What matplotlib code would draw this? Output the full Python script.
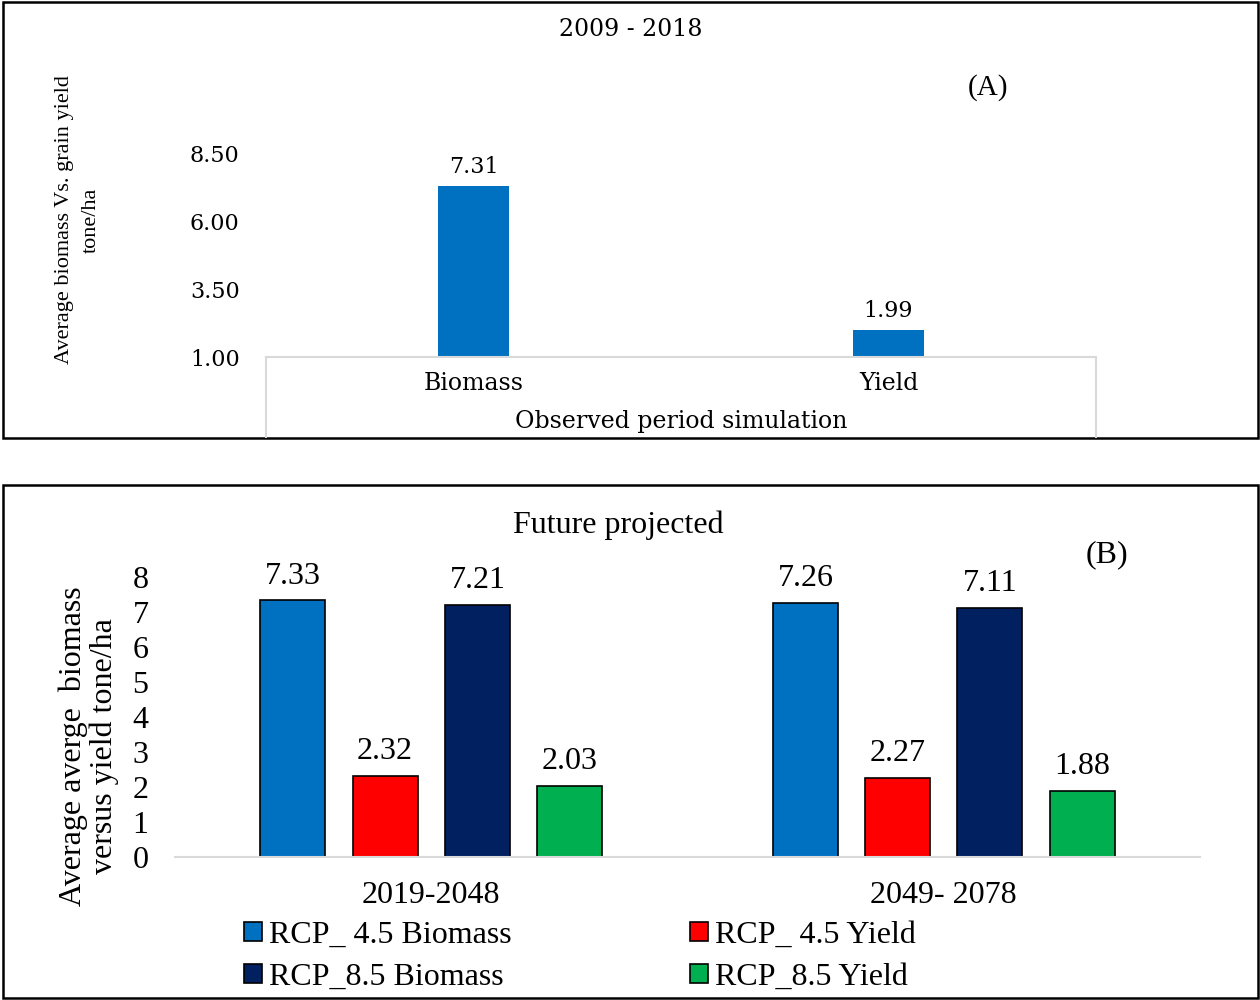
import matplotlib
matplotlib.use("Agg")
import matplotlib.pyplot as plt
from matplotlib.patches import Rectangle
from matplotlib.lines import Line2D
import numpy as np

# ---------------- data ----------------
obs_categories = ["Biomass", "Yield"]
obs_values = [7.31, 1.99]
obs_yticks = [1.00, 3.50, 6.00, 8.50]

fut_periods = ["2019-2048", "2049- 2078"]
rcp45_biomass = [7.33, 7.26]
rcp45_yield = [2.32, 2.27]
rcp85_biomass = [7.21, 7.11]
rcp85_yield = [2.03, 1.88]
series_names = ["RCP_ 4.5 Biomass", "RCP_ 4.5 Yield", "RCP_8.5 Biomass", "RCP_8.5 Yield"]
fut_yticks = [0, 1, 2, 3, 4, 5, 6, 7, 8]

W, H = 1260, 1000
fig = plt.figure(figsize=(W / 100, H / 100), dpi=100)

TIMES = "Liberation Serif"
WIDE = "DejaVu Serif"

def fx(px):
    return px / W

def fy(py):
    return 1 - py / H

# ---------------- Panel A ----------------
axA = fig.add_axes([fx(266), fy(357), fx(1096) - fx(266), fy(154) - fy(357)])
xa = np.arange(len(obs_categories))
barsA = axA.bar(xa, obs_values, width=0.17, color="#0070C0", bottom=0)
axA.set_xlim(-0.5, 1.5)
axA.set_ylim(1.0, 8.5)
axA.set_yticks(obs_yticks)
axA.set_yticklabels([f"{v:.2f}" for v in obs_yticks], family=WIDE, fontsize=16)
axA.set_xticks(xa)
axA.set_xticklabels(obs_categories, family=WIDE, fontsize=17)
axA.tick_params(axis="both", length=0)
axA.tick_params(axis="y", pad=19)
axA.tick_params(axis="x", pad=11)
for s in ["top", "right", "left"]:
    axA.spines[s].set_visible(False)
axA.spines["bottom"].set_color("#D9D9D9")
axA.spines["bottom"].set_linewidth(1.5)
axA.bar_label(barsA, labels=[f"{v:.2f}" for v in obs_values], padding=6,
              family=WIDE, fontsize=16)

# gray category box lines
for xp in (266, 1096):
    fig.add_artist(Line2D([fx(xp), fx(xp)], [fy(357), fy(437)], color="#D9D9D9", lw=1.5))

fig.text(fx(681), fy(422), "Observed period simulation", family=WIDE, fontsize=17,
         ha="center", va="center")
fig.text(fx(631), fy(30), "2009 - 2018", family=WIDE, fontsize=17,
         ha="center", va="center")
fig.text(fx(988), fy(88), "(A)", family=TIMES, fontsize=21, ha="center", va="center")
fig.text(fx(78), fy(220), "Average biomass Vs. grain yield\ntone/ha", family=TIMES,
         fontsize=16, rotation=90, ha="center", va="center", multialignment="center",
         linespacing=1.5)

fig.add_artist(Rectangle((fx(3), fy(438)), fx(1258) - fx(3), fy(2) - fy(438),
                         fill=False, edgecolor="black", lw=1.8))

# ---------------- Panel B ----------------
FS = 23
axB = fig.add_axes([fx(175), fy(857), fx(1200) - fx(175), fy(577) - fy(857)])
xb = np.arange(len(fut_periods))
step = 0.18
bw = 0.127
series_vals = [rcp45_biomass, rcp45_yield, rcp85_biomass, rcp85_yield]
series_cols = ["#0070C0", "#FF0000", "#002060", "#00B050"]
handles = []
for i, (vals, col, name) in enumerate(zip(series_vals, series_cols, series_names)):
    bars = axB.bar(xb + (i - 1.5) * step, vals, width=bw, color=col,
                   edgecolor="black", linewidth=1.2, label=name)
    axB.bar_label(bars, labels=[f"{v:.2f}" for v in vals], padding=7,
                  family=TIMES, fontsize=FS)
    handles.append(bars)
axB.set_xlim(-0.5, 1.5)
axB.set_ylim(0, 8)
axB.set_yticks(fut_yticks)
axB.set_yticklabels([str(v) for v in fut_yticks], family=TIMES, fontsize=FS)
axB.set_xticks(xb)
axB.set_xticklabels(fut_periods, family=TIMES, fontsize=FS)
axB.tick_params(axis="both", length=0)
axB.tick_params(axis="y", pad=19)
axB.tick_params(axis="x", pad=17)
for s in ["top", "right", "left"]:
    axB.spines[s].set_visible(False)
axB.spines["bottom"].set_color("#D9D9D9")
axB.spines["bottom"].set_linewidth(1.5)

order = [0, 2, 1, 3]
leg = fig.legend([handles[i] for i in order], [series_names[i] for i in order],
                 loc="upper left", bbox_to_anchor=(fx(244), fy(921)), ncol=2,
                 frameon=False, prop={"family": TIMES, "size": FS},
                 handlelength=0.55, handleheight=0.55, handletextpad=0.22,
                 labelspacing=0.4, columnspacing=5.6, borderpad=0, borderaxespad=0)

fig.text(fx(618), fy(525), "Future projected", family=TIMES, fontsize=FS,
         ha="center", va="center")
fig.text(fx(1107), fy(555), "(B)", family=TIMES, fontsize=FS, ha="center", va="center")
fig.text(fx(89), fy(746), "Average averge  biomass\nversus yield tone/ha", family=TIMES,
         fontsize=FS, rotation=90, ha="center", va="center", multialignment="center",
         linespacing=1.08)

fig.add_artist(Rectangle((fx(3), fy(998)), fx(1258) - fx(3), fy(485) - fy(998),
                         fill=False, edgecolor="black", lw=1.8))

fig.savefig("out.png", dpi=100)
